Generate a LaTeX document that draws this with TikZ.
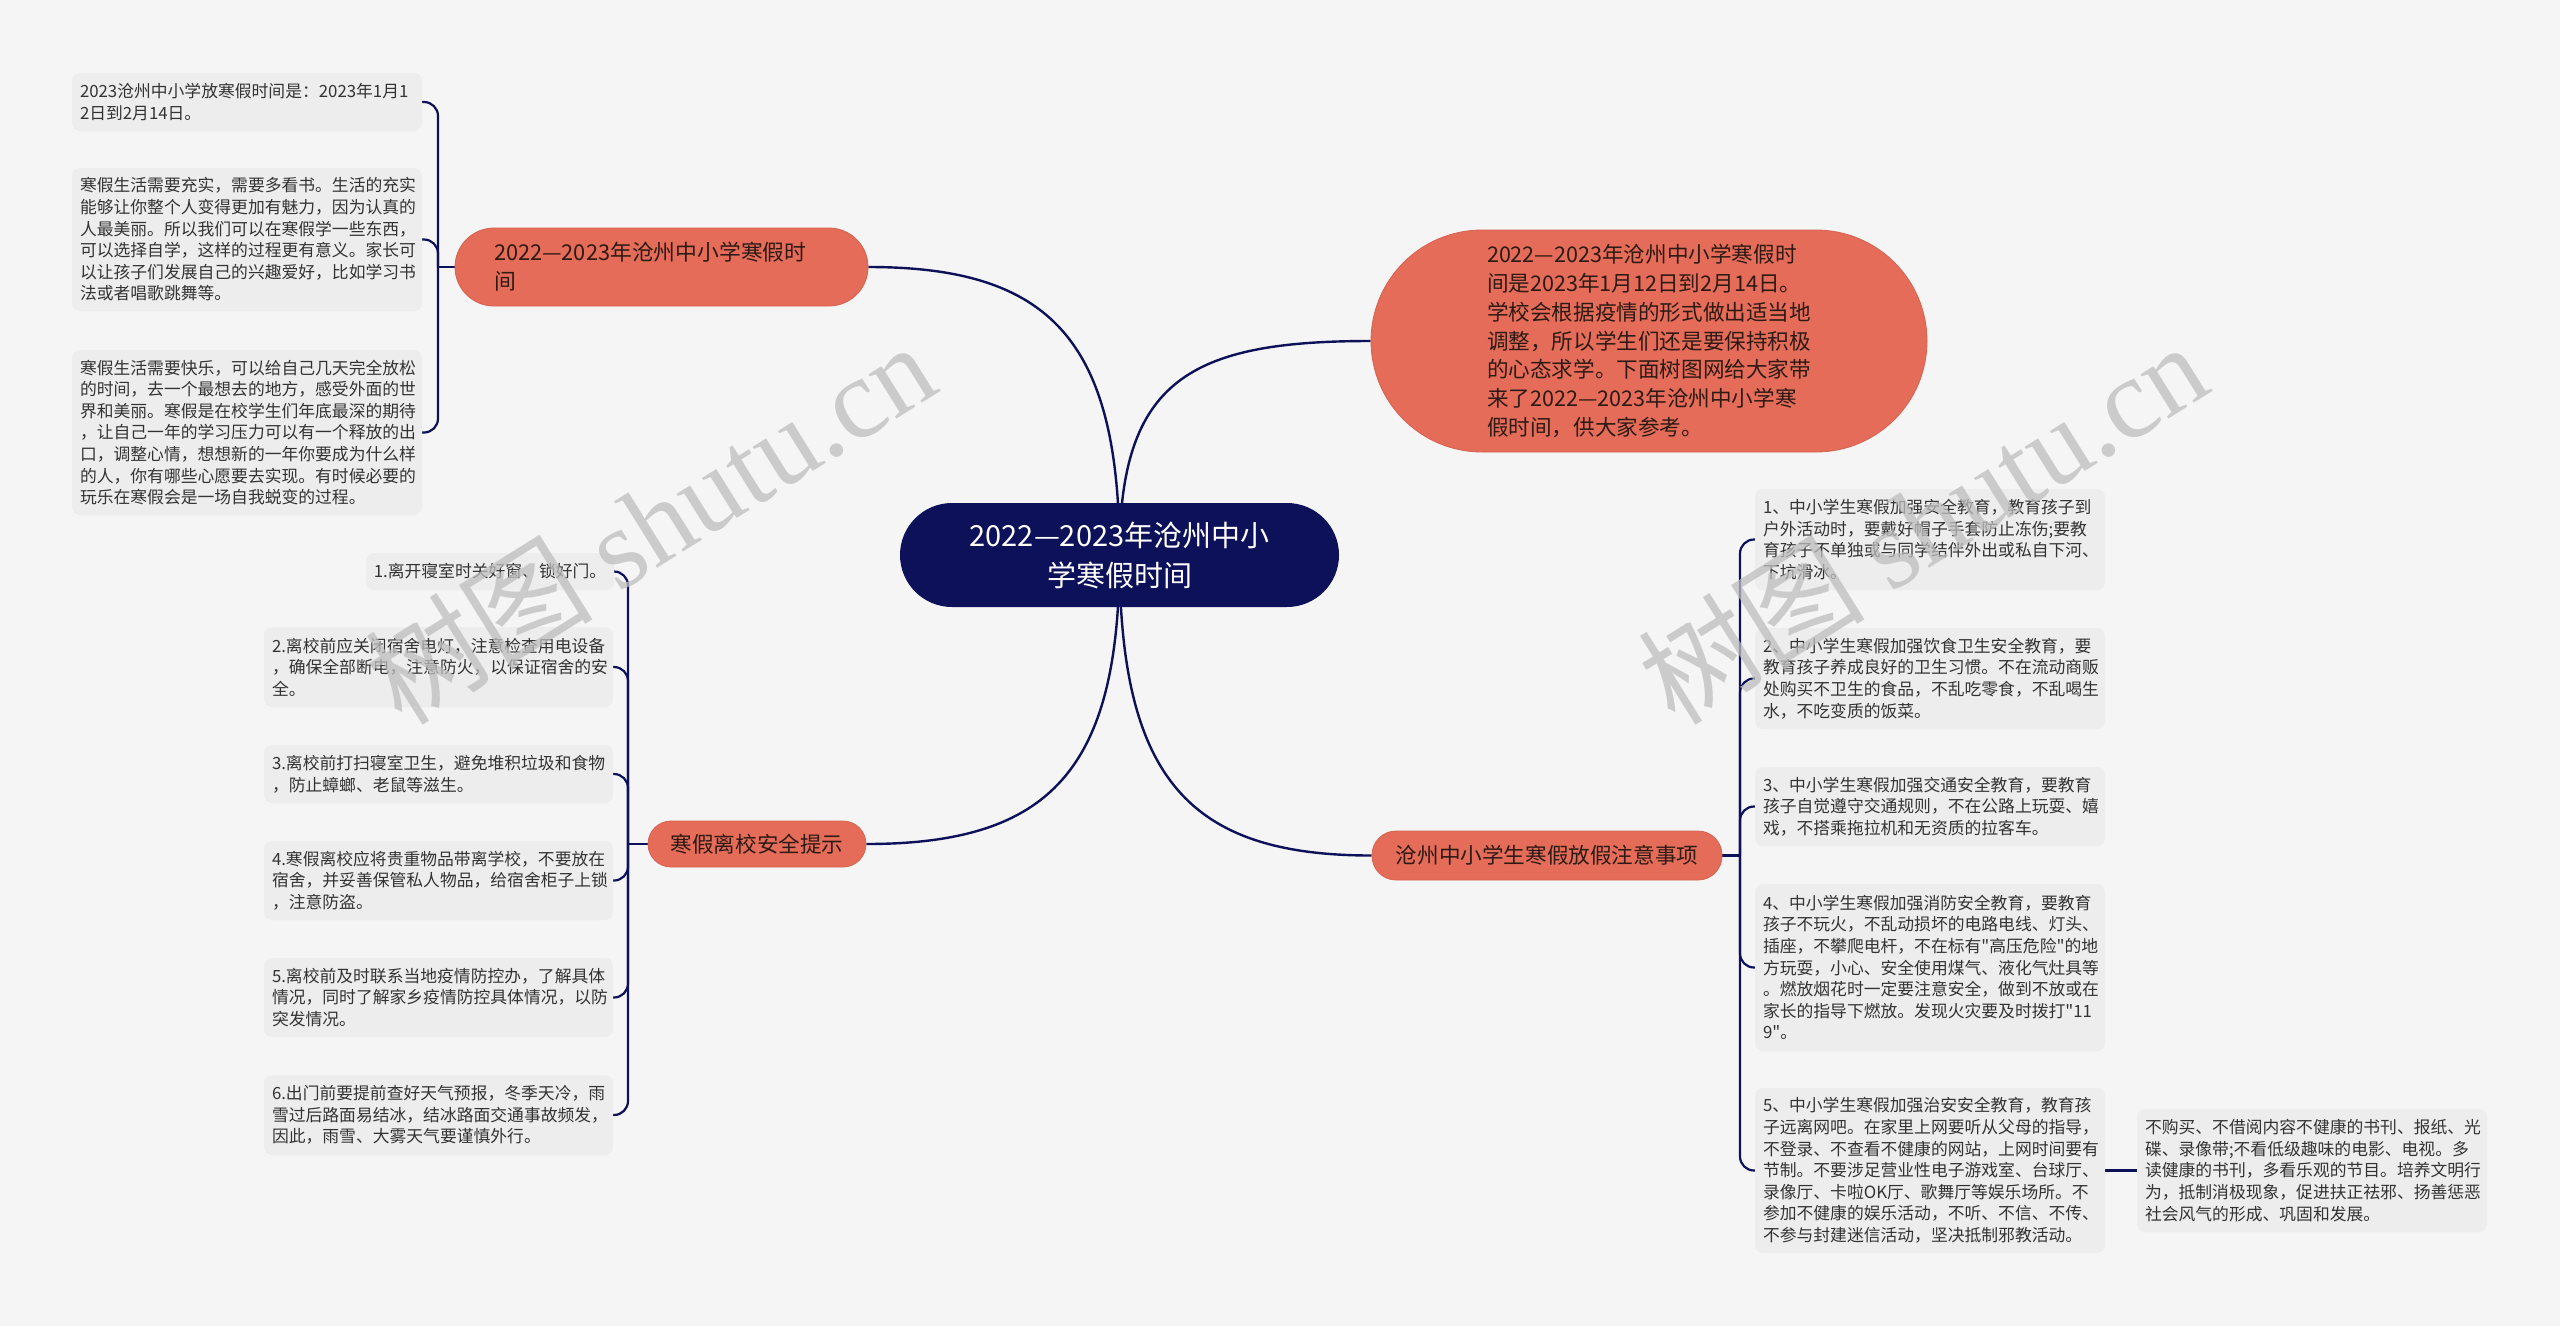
\documentclass[tikz,border=0pt]{standalone}
\usepackage{fontspec}
\setmainfont{Noto Sans CJK SC}[Ligatures=TeXOff]
\newfontfamily\wmlatin{Liberation Serif}
\definecolor{bgc}{RGB}{245,245,245}
\definecolor{leafc}{RGB}{237,237,237}
\definecolor{leaftext}{RGB}{51,51,51}
\definecolor{orangec}{RGB}{228,108,88}
\definecolor{orangedark}{RGB}{214,98,80}
\definecolor{orangetext}{RGB}{45,26,20}
\definecolor{navyc}{RGB}{12,17,89}
\definecolor{wmgray}{RGB}{190,190,190}
\pgfdeclarelayer{bglayer}
\pgfdeclarelayer{edgelayer}
\pgfdeclarelayer{toplayer}
\pgfsetlayers{bglayer,edgelayer,main,toplayer}
\tikzset{
  leaf/.style={fill=leafc, rounded corners=8pt, text=leaftext, align=left,
    inner xsep=8pt, inner ysep=0pt, font={\fontsize{16.8}{21.6}\selectfont}},
  obox/.style={fill=orangec, draw=orangedark, line width=0.8pt, text=orangetext,
    font={\fontsize{21.8}{29}\selectfont}, inner sep=0pt},
  conn/.style={draw=navyc, line width=2.4pt},
  brace/.style={draw=navyc, line width=2.2pt, rounded corners=14pt},
  wm/.style={text=wmgray, opacity=0.75, font={\fontsize{114}{114}\selectfont}, inner sep=0pt}
}
\begin{document}
\begin{tikzpicture}[x=1pt,y=-1pt]
\begin{pgfonlayer}{bglayer}
\fill[bgc] (0,0) rectangle (2560,1326);
\end{pgfonlayer}
\useasboundingbox (0,0) rectangle (2560,1326);

% central node
\node[fill=navyc, text=white, rounded corners=52pt, minimum width=439pt, minimum height=104pt,
  align=center, inner sep=0pt, font={\fontsize{29}{40}\selectfont}] (M) at (1119.5,555)
  {2022—2023年沧州中小\\学寒假时间};

% main branches
\node[obox, rounded corners=39pt, minimum width=413pt, minimum height=78pt, text width=335pt, align=left]
  (A) at (661.5,267) {2022—2023年沧州中小学寒假时\\间};
\node[obox, rounded corners=111pt, minimum width=556pt, minimum height=222pt, align=left,
  font={\fontsize{21.6}{28.8}\selectfont}] (B) at (1649,341)
  {2022—2023年沧州中小学寒假时\\间是2023年1月12日到2月14日。\\学校会根据疫情的形式做出适当地\\调整，所以学生们还是要保持积极\\的心态求学。下面树图网给大家带\\来了2022—2023年沧州中小学寒\\假时间，供大家参考。};
\node[obox, rounded corners=23pt, minimum width=218pt, minimum height=46pt, align=center,
  font={\fontsize{21.6}{28}\selectfont}] (C) at (757,844) {寒假离校安全提示};
\node[obox, rounded corners=24pt, minimum width=350pt, minimum height=49pt, align=center,
  font={\fontsize{21.6}{28}\selectfont}] (D) at (1547,855.5) {沧州中小学生寒假放假注意事项};

% left top leaves
\node[leaf, minimum width=350pt, minimum height=58pt, text width=334pt] (L1) at (247,102)
  {2023沧州中小学放寒假时间是：2023年1月1\\2日到2月14日。};
\node[leaf, minimum width=350pt, minimum height=143pt, text width=334pt] (L2) at (247,239.5)
  {寒假生活需要充实，需要多看书。生活的充实\\能够让你整个人变得更加有魅力，因为认真的\\人最美丽。所以我们可以在寒假学一些东西，\\可以选择自学，这样的过程更有意义。家长可\\以让孩子们发展自己的兴趣爱好，比如学习书\\法或者唱歌跳舞等。};
\node[leaf, minimum width=350pt, minimum height=165pt, text width=334pt] (L3) at (247,432.5)
  {寒假生活需要快乐，可以给自己几天完全放松\\的时间，去一个最想去的地方，感受外面的世\\界和美丽。寒假是在校学生们年底最深的期待\\，让自己一年的学习压力可以有一个释放的出\\口，调整心情，想想新的一年你要成为什么样\\的人，你有哪些心愿要去实现。有时候必要的\\玩乐在寒假会是一场自我蜕变的过程。};

% left bottom leaves
\node[leaf, minimum width=246pt, minimum height=37pt] (C1) at (490,571.5)
  {1.离开寝室时关好窗、锁好门。};
\node[leaf, minimum width=349pt, minimum height=80pt, text width=333pt] (C2) at (438.5,667)
  {2.离校前应关闭宿舍电灯，注意检查用电设备\\，确保全部断电，注意防火，以保证宿舍的安\\全。};
\node[leaf, minimum width=349pt, minimum height=58pt, text width=333pt] (C3) at (438.5,774)
  {3.离校前打扫寝室卫生，避免堆积垃圾和食物\\，防止蟑螂、老鼠等滋生。};
\node[leaf, minimum width=349pt, minimum height=79pt, text width=333pt] (C4) at (438.5,880.5)
  {4.寒假离校应将贵重物品带离学校，不要放在\\宿舍，并妥善保管私人物品，给宿舍柜子上锁\\，注意防盗。};
\node[leaf, minimum width=349pt, minimum height=79pt, text width=333pt] (C5) at (438.5,997.5)
  {5.离校前及时联系当地疫情防控办，了解具体\\情况，同时了解家乡疫情防控具体情况，以防\\突发情况。};
\node[leaf, minimum width=349pt, minimum height=80pt, text width=333pt] (C6) at (438.5,1115)
  {6.出门前要提前查好天气预报，冬季天冷，雨\\雪过后路面易结冰，结冰路面交通事故频发，\\因此，雨雪、大雾天气要谨慎外行。};

% right leaves
\node[leaf, minimum width=350pt, minimum height=101pt, text width=334pt] (R1) at (1930,539.5)
  {1、中小学生寒假加强安全教育，教育孩子到\\户外活动时，要戴好帽子手套防止冻伤;要教\\育孩子不单独或与同学结伴外出或私自下河、\\下坑滑冰。};
\node[leaf, minimum width=350pt, minimum height=101pt, text width=334pt] (R2) at (1930,678.5)
  {2、中小学生寒假加强饮食卫生安全教育，要\\教育孩子养成良好的卫生习惯。不在流动商贩\\处购买不卫生的食品，不乱吃零食，不乱喝生\\水，不吃变质的饭菜。};
\node[leaf, minimum width=350pt, minimum height=79pt, text width=334pt] (R3) at (1930,806.5)
  {3、中小学生寒假加强交通安全教育，要教育\\孩子自觉遵守交通规则，不在公路上玩耍、嬉\\戏，不搭乘拖拉机和无资质的拉客车。};
\node[leaf, minimum width=350pt, minimum height=167pt, text width=334pt] (R4) at (1930,967.5)
  {4、中小学生寒假加强消防安全教育，要教育\\孩子不玩火，不乱动损坏的电路电线、灯头、\\插座，不攀爬电杆，不在标有"高压危险"的地\\方玩耍，小心、安全使用煤气、液化气灶具等\\。燃放烟花时一定要注意安全，做到不放或在\\家长的指导下燃放。发现火灾要及时拨打"11\\9"。};
\node[leaf, minimum width=350pt, minimum height=165pt, text width=334pt] (R5) at (1930,1170.5)
  {5、中小学生寒假加强治安安全教育，教育孩\\子远离网吧。在家里上网要听从父母的指导，\\不登录、不查看不健康的网站，上网时间要有\\节制。不要涉足营业性电子游戏室、台球厅、\\录像厅、卡啦OK厅、歌舞厅等娱乐场所。不\\参加不健康的娱乐活动，不听、不信、不传、\\不参与封建迷信活动，坚决抵制邪教活动。};
\node[leaf, minimum width=350pt, minimum height=123pt, text width=334pt] (R6) at (2312,1170.5)
  {不购买、不借阅内容不健康的书刊、报纸、光\\碟、录像带;不看低级趣味的电影、电视。多\\读健康的书刊，多看乐观的节目。培养文明行\\为，抵制消极现象，促进扶正祛邪、扬善惩恶\\社会风气的形成、巩固和发展。};

% connectors
\begin{pgfonlayer}{edgelayer}
\draw[conn] (M.center) .. controls (1119.5,340) and (1050,267) .. (A.east);
\draw[conn] (M.center) .. controls (1119.5,380) and (1190,341) .. (B.west);
\draw[conn] (M.center) .. controls (1119.5,770) and (1050,844) .. (C.east);
\draw[conn] (M.center) .. controls (1119.5,780) and (1190,855.5) .. (D.west);

\coordinate (TA) at (438,267);
\draw[conn] (A.west) -- (TA);
\foreach \l in {L1,L2,L3} \draw[brace] (TA) |- (\l.east);

\coordinate (TC) at (628,844);
\draw[conn] (C.west) -- (TC);
\foreach \l in {C1,C2,C3,C4,C5,C6} \draw[brace] (TC) |- (\l.east);

\coordinate (TD) at (1740,855.5);
\draw[conn] (D.east) -- (TD);
\foreach \l in {R1,R2,R3,R4,R5} \draw[brace] (TD) |- (\l.west);

\draw[conn] (R5.east) -- (R6.west);
\end{pgfonlayer}

% watermarks
\begin{pgfonlayer}{toplayer}
\node[wm, rotate=32] (W1) at (650,522) {树图 {\wmlatin shutu.cn}};
\node[wm, rotate=32] (W2) at (1922,522) {树图 {\wmlatin shutu.cn}};
\end{pgfonlayer}
\end{tikzpicture}
\end{document}
